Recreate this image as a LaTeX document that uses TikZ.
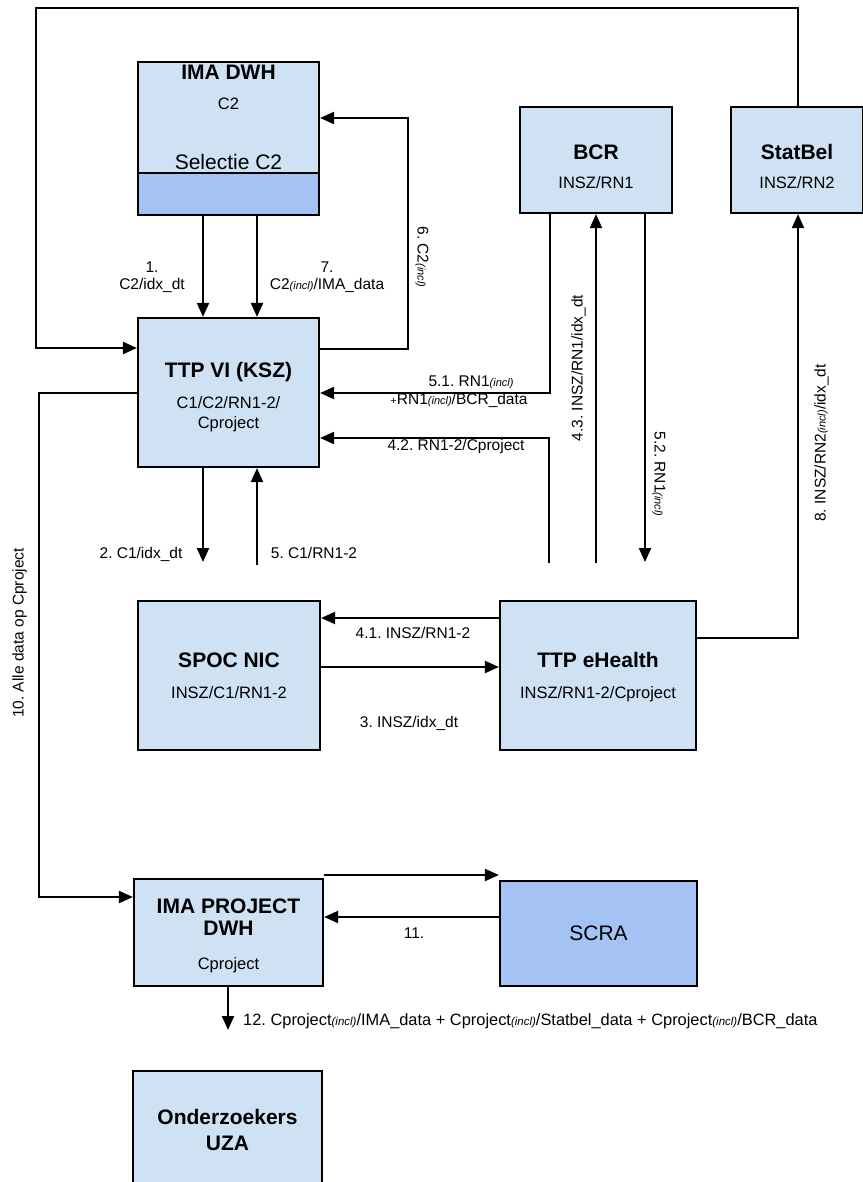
\documentclass[tikz,border=0pt]{standalone}
\usepackage{fontspec}
\setmainfont{Liberation Sans}
\usetikzlibrary{arrows.meta}
\definecolor{lb}{HTML}{CFE2F3}
\definecolor{db}{HTML}{A4C2F4}
\newcommand{\inc}{{\fontsize{11}{11}\selectfont\itshape(incl)}}
\newcommand{\incb}{{\fontsize{11.5}{11.5}\selectfont\itshape(incl)}}
\newcommand{\smallplus}{{\fontsize{11}{11}\selectfont +}}
\frenchspacing
\begin{document}
\begin{tikzpicture}[x=1pt,y=-1pt,
 box/.style={draw, line width=2.2pt, fill=lb, inner sep=0pt},
 ttl/.style={font=\fontsize{21}{24}\selectfont\bfseries, inner sep=0pt, text height=15pt, text depth=0pt},
 big/.style={font=\fontsize{21}{24}\selectfont, inner sep=0pt, text height=15pt, text depth=0pt},
 sub/.style={font=\fontsize{16.5}{19}\selectfont, inner sep=0pt, text height=11.8pt, text depth=0pt},
 lbl/.style={font=\fontsize{15.5}{17}\selectfont, inner sep=0pt, text height=11pt, text depth=0pt},
 arr/.style={line width=2.1pt, -{Triangle[length=14pt,width=12pt]}},
 ln/.style={line width=2.1pt}]
\useasboundingbox (0,0) rectangle (862,1182);

% boxes
\node[box, minimum width=181pt, minimum height=153pt] (ima) at (228.5,138.5) {};
\draw[line width=2.2pt, fill=db] (138,173) rectangle (319,215);
\node[box, minimum width=181pt, minimum height=149pt] (ttp) at (228.5,392.5) {};
\node[box, minimum width=152pt, minimum height=106pt] (bcr) at (596,160) {};
\node[box, minimum width=132pt, minimum height=106pt] (stat) at (797,160) {};
\node[box, minimum width=182pt, minimum height=149pt] (spoc) at (229,675.5) {};
\node[box, minimum width=196pt, minimum height=149pt] (eh) at (598,675.5) {};
\node[box, minimum width=189pt, minimum height=107pt] (imap) at (228.5,932.5) {};
\node[box, fill=db, minimum width=197pt, minimum height=105pt] (scra) at (598.5,933.5) {};
\node[box, minimum width=189pt, minimum height=124pt] (uza) at (227.5,1133) {};

% box texts
\node[ttl] (imat) at (228.5,72) {IMA DWH};
\node[sub] (imas) at (228.5,104) {C2};
\node[big] (imasel) at (228.5,162) {Selectie C2};
\node[ttl] (ttpt) at (228.5,370) {TTP VI (KSZ)};
\node[sub] (ttps1) at (228.5,403) {C1/C2/RN1-2/};
\node[sub] (ttps2) at (228.5,423) {Cproject};
\node[ttl] (bcrt) at (596,152) {BCR};
\node[sub] (bcrs) at (596,183) {INSZ/RN1};
\node[ttl] (statt) at (797,152) {StatBel};
\node[sub] (stats) at (797,183) {INSZ/RN2};
\node[ttl] (spoct) at (229,660) {SPOC NIC};
\node[sub] (spocs) at (229,693) {INSZ/C1/RN1-2};
\node[ttl] (eht) at (598,660) {TTP eHealth};
\node[sub] (ehs) at (598,693) {INSZ/RN1-2/Cproject};
\node[ttl] (imapt1) at (228.5,906) {IMA PROJECT};
\node[ttl] (imapt2) at (228.5,928) {DWH};
\node[sub] (imaps) at (228.5,964) {Cproject};
\node[big] (scrat) at (598.5,933) {SCRA};
\node[ttl] (uzat1) at (227.5,1117) {Onderzoekers};
\node[ttl] (uzat2) at (227.5,1143) {UZA};

% free ends
\coordinate (c2) at (203,562);
\coordinate (c5) at (257,565);
\coordinate (c42) at (549,563);
\coordinate (c43) at (596,563);
\coordinate (c52) at (645,562);
\coordinate (c12) at (228,1030);

% connectors
\draw[arr] (stat.north -| 798,0) -- (798,8) -- (36,8) -- (36,348) -- (ttp.west |- 0,348);
\draw[arr] (ima.south -| 203,0) -- (ttp.north -| 203,0);
\draw[arr] (ima.south -| 257,0) -- (ttp.north -| 257,0);
\draw[arr] (ttp.east |- 0,349) -- (408,349) -- (408,118) -- (ima.east |- 0,118);
\draw[arr] (bcr.south -| 550,0) -- (550,393) -- (ttp.east |- 0,393);
\draw[arr] (c42) -- (549,438) -- (ttp.east |- 0,438);
\draw[arr] (c43) -- (bcr.south -| 596,0);
\draw[arr] (bcr.south -| 645,0) -- (c52);
\draw[arr] (ttp.south -| 203,0) -- (c2);
\draw[arr] (c5) -- (ttp.south -| 257,0);
\draw[arr] (eh.west |- 0,618) -- (spoc.east |- 0,618);
\draw[arr] (spoc.east |- 0,667) -- (eh.west |- 0,667);
\draw[arr] (eh.east |- 0,638) -- (798,638) -- (stat.south -| 798,0);
\draw[arr] (ttp.west |- 0,393) -- (39,393) -- (39,897) -- (imap.west |- 0,897);
\draw[arr] (imap.east |- 0,875) -- (scra.west |- 0,875);
\draw[arr] (scra.west |- 0,917) -- (imap.east |- 0,917);
\draw[arr] (imap.south -| 228,0) -- (c12);

% connector labels
\node[lbl] (l1a) at (152,267) {1.};
\node[lbl] (l1b) at (152,284) {C2/idx\_dt};
\node[lbl] (l7a) at (327,267) {7.};
\node[lbl] (l7b) at (327,284) {C2\inc/IMA\_data};
\node[lbl, rotate=-90] (l6) at (423,257) {6. C2\inc};
\node[lbl] (l2) at (141,553) {2. C1/idx\_dt};
\node[lbl] (l5) at (314,553) {5. C1/RN1-2};
\node[lbl] (l51a) at (471,381) {5.1. RN1\inc};
\node[lbl] (l51b) at (459,399) {\smallplus RN1\inc/BCR\_data};
\node[lbl] (l42) at (456,445) {4.2. RN1-2/Cproject};
\node[lbl, rotate=90] (l43) at (577,368) {4.3. INSZ/RN1/idx\_dt};
\node[lbl, rotate=-90] (l52) at (660,474) {5.2. RN1\inc};
\node[lbl, rotate=90] (l8) at (820,443) {8. INSZ/RN2\inc/idx\_dt};
\node[lbl, rotate=90] (l10) at (18,633) {10. Alle data op Cproject};
\node[lbl] (l41) at (413,633) {4.1. INSZ/RN1-2};
\node[lbl] (l3) at (409,722) {3. INSZ/idx\_dt};
\node[lbl] (l11) at (414,933) {11.};
\node[lbl, anchor=west, font=\fontsize{16.4}{18}\selectfont] (l12) at (243,1020) {12. Cproject\incb/IMA\_data + Cproject\incb/Statbel\_data + Cproject\incb/BCR\_data};
\end{tikzpicture}
\end{document}
